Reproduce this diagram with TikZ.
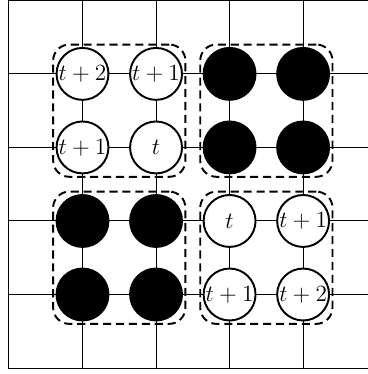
\documentclass[tikz,border=0pt]{standalone}
\usetikzlibrary{fit}
\begin{document}
\begin{tikzpicture}[x=1.6cm, y=1.6cm,
      cell/.style={circle, draw, line width=1.2pt, fill=white,
                   minimum size=1.13cm, inner sep=0pt,
                   font=\fontsize{13.5}{16}\selectfont},
      full/.style={cell, fill=black},
      group/.style={draw, line width=1.2pt, dash pattern=on 5pt off 3pt,
                    rounded corners=10pt, inner sep=1.5pt},
      gridline/.style={line width=0.6pt}
    ]
    \useasboundingbox (-0.122,-0.081) rectangle (4.878,5.005);

    % Grid
    \coordinate (tr) at (4.878,5);
    \coordinate (br) at (4.878,0);
    \draw[gridline] (tr) -- (0,5) -- (0,0) -- (br);
    \foreach \i in {1,...,4} {
      \draw[gridline] (\i,0) -- (\i,5);
      \draw[gridline] (0,\i) -- (4.878,\i);
    }

    % Upper left block
    \node[cell] (a14) at (1,4) {$t+2$};
    \node[cell] (a24) at (2,4) {$t+1$};
    \node[cell] (a13) at (1,3) {$t+1$};
    \node[cell] (a23) at (2,3) {$t$};

    % Upper right block
    \node[full] (a34) at (3,4) {};
    \node[full] (a44) at (4,4) {};
    \node[full] (a33) at (3,3) {};
    \node[full] (a43) at (4,3) {};

    % Lower left block
    \node[full] (a12) at (1,2) {};
    \node[full] (a22) at (2,2) {};
    \node[full] (a11) at (1,1) {};
    \node[full] (a21) at (2,1) {};

    % Lower right block
    \node[cell] (a32) at (3,2) {$t$};
    \node[cell] (a42) at (4,2) {$t+1$};
    \node[cell] (a31) at (3,1) {$t+1$};
    \node[cell] (a41) at (4,1) {$t+2$};

    % Dashed groups
    \node[group, fit=(a14)(a23)] (g1) {};
    \node[group, fit=(a34)(a43)] (g2) {};
    \node[group, fit=(a12)(a21)] (g3) {};
    \node[group, fit=(a32)(a41)] (g4) {};

  \end{tikzpicture}
\end{document}
